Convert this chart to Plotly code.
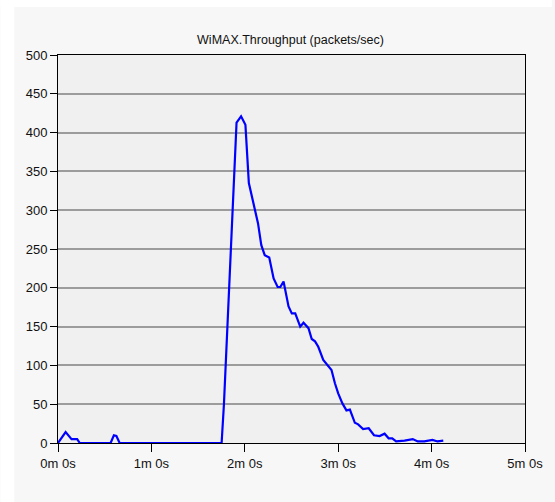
import plotly.graph_objects as go

# Time in seconds and throughput in packets/sec
time_s = [0, 4.9, 8.7, 12.3, 14.0, 33.8, 35.9, 37.5, 39.6, 105.1, 106.6,
          114.7, 117.6, 120.4, 122.6, 123.6, 126.4, 128.5, 130.6, 132.8, 135.7,
          138.5, 141.1, 142.8, 144.9, 148.1, 150.2, 152.4, 155.6, 157.7, 160.9,
          163.0, 165.1, 167.2, 170.4, 173.6, 175.7, 177.9, 180.0, 182.7, 185.3,
          187.5, 190.7, 192.8, 196.0, 199.6, 203.0, 206.6, 209.8, 212.4, 214.7,
          217.2, 222.6, 227.9, 231.1, 235.3, 240.6, 243.8, 247.5]
throughput = [0, 14, 5, 5, 0, 0, 10, 9, 0, 0, 50,
              413, 421, 410, 335, 326, 300, 283, 255, 242, 239,
              212, 201, 201, 208, 176, 167, 167, 150, 155, 148,
              134, 131, 124, 107, 100, 94, 77, 64, 51, 42,
              43, 26, 24, 18, 19, 10, 9, 12, 6, 6,
              2, 3, 5, 2, 2, 4, 2, 3]

x_tickvals = [0, 60, 120, 180, 240, 300]
x_ticktext = ["0m 0s", "1m 0s", "2m 0s", "3m 0s", "4m 0s", "5m 0s"]
y_tickvals = [0, 50, 100, 150, 200, 250, 300, 350, 400, 450, 500]

FONT = "Liberation Sans Narrow, Arial Narrow, Liberation Sans, sans-serif"

fig = go.Figure()
fig.add_trace(go.Scatter(x=time_s, y=throughput, mode="lines",
                         line=dict(color="#0000ff", width=2.2),
                         showlegend=False, hoverinfo="skip"))

W, H = 555, 502
L, R, T, B = 58, 27, 55, 59
pw, ph = W - L - R, H - T - B

def px_x(v):
    return (v - L) / pw

def px_y(v):
    return (H - B - v) / ph

shapes = [
    dict(type="rect", xref="paper", yref="paper", layer="below",
         x0=px_x(0), x1=px_x(14), y0=px_y(H), y1=px_y(0),
         fillcolor="white", line=dict(width=0)),
    dict(type="rect", xref="paper", yref="paper", layer="below",
         x0=px_x(0), x1=px_x(W), y0=px_y(7), y1=px_y(0),
         fillcolor="white", line=dict(width=0)),
]

fig.update_layout(
    width=W, height=H,
    margin=dict(l=L, r=R, t=T, b=B, pad=0),
    paper_bgcolor="#f7f7f7",
    plot_bgcolor="#f0f0f0",
    shapes=shapes,
    font=dict(family=FONT, size=13, color="#111111"),
    title=dict(text="WiMAX.Throughput (packets/sec)", x=px_x(292), xanchor="center",
               xref="paper", y=1 - 40 / H, yref="container", yanchor="middle",
               font=dict(family=FONT, size=12.5, color="#111111")),
)
fig.update_xaxes(range=[0, 300], tickvals=x_tickvals, ticktext=x_ticktext,
                 showgrid=False, zeroline=False, showline=True, linecolor="black",
                 linewidth=1, mirror=True, ticks="outside", ticklen=8,
                 tickcolor="black", layer="below traces", fixedrange=True)
fig.update_yaxes(range=[0, 500], tickvals=y_tickvals, showgrid=True,
                 gridcolor="#9c9c9c", gridwidth=1.5, zeroline=False,
                 showline=True, linecolor="black", linewidth=1, mirror=True,
                 ticks="outside", ticklen=7, tickcolor="black",
                 layer="below traces", fixedrange=True)

fig.write_html("out.html")
